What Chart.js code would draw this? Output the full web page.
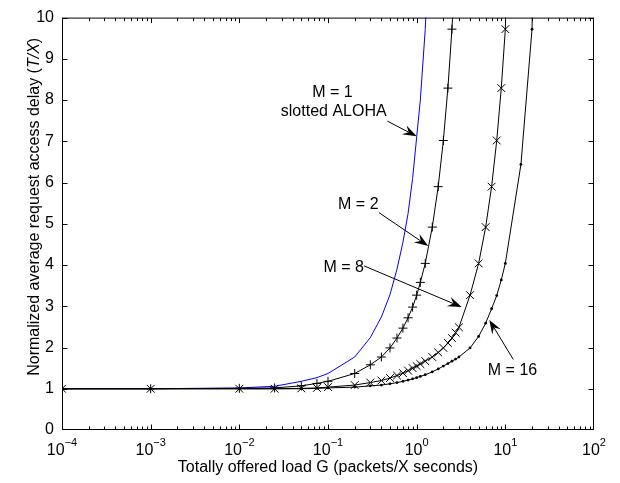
<!DOCTYPE html>
<html>
<head>
<meta charset="utf-8">
<title>Normalized access delay vs offered load</title>
<script src="https://cdn.jsdelivr.net/npm/chart.js@4.4.1/dist/chart.umd.min.js"></script>
<style>
  html, body { margin: 0; padding: 0; background: #fff; }
  #plot { display: block; }
</style>
</head>
<body>
<canvas id="plot" width="620" height="483"></canvas>
<script>
// offered load G (packets / X seconds), one grid shared by all curves
var loadG = [0.0001, 0.001, 0.01, 0.025, 0.05, 0.075, 0.1, 0.2, 0.3, 0.4, 0.5, 0.6, 0.7, 0.8, 0.9, 1.0, 1.1, 1.25,
             1.5, 1.75, 2.0, 2.25, 2.5, 2.75, 3.0, 4, 5, 6, 7, 8, 9, 10, 15, 20, 25];

// normalized average request access delay T/X
var delayM1 = [1.0, 1.0, 1.02, 1.06, 1.18, 1.27, 1.37, 1.77, 2.24, 2.74, 3.28, 3.9, 4.55, 5.25, 6.1, 7.1, 8.0, 9.72,
               13.5, null, null, null, null, null, null, null, null, null, null, null, null, null, null, null, null];
var delayM2 = [1.0, 1.0, 1.01, 1.02, 1.07, 1.13, 1.18, 1.37, 1.58, 1.77, 1.99, 2.23, 2.47, 2.72, 2.98, 3.27, 3.58, 4.04,
               4.92, 5.9, 7.02, 8.29, 9.72, 11.5, null, null, null, null, null, null, null, null, null, null, null];
var delayM8 = [1.0, 1.0, 1.0, 1.0, 1.01, 1.02, 1.04, 1.09, 1.15, 1.2, 1.26, 1.32, 1.38, 1.44, 1.5, 1.55, 1.6, 1.67,
               1.77, 1.88, 1.99, 2.11, 2.23, 2.36, 2.49, 3.27, 4.04, 4.92, 5.9, 7.02, 8.29, 9.72, 25, null, null];
var delayM16 = [1.0, 1.0, 1.0, 1.0, 1.0, 1.01, 1.02, 1.04, 1.07, 1.09, 1.12, 1.15, 1.18, 1.21, 1.24, 1.27, 1.3, 1.34,
                1.41, 1.48, 1.55, 1.61, 1.67, 1.72, 1.77, 1.99, 2.27, 2.59, 2.94, 3.26, 3.64, 4.04, 6.44, 9.72, 20];

var xTickExponents = [-4, -3, -2, -1, 0, 1, 2];
var yTickValues = [0, 1, 2, 3, 4, 5, 6, 7, 8, 9, 10];

var xTitle = 'Totally offered load G (packets/X seconds)';
var yTitle = ['Normalized average request access delay (', 'T/X', ')'];

// labels and arrows, placed in data coordinates (G, T/X)
var noteTexts = [
    { text: 'M = 1', g: 0.1123, y: 8.07 },
    { text: 'slotted ALOHA', g: 0.116, y: 7.61 },
    { text: 'M = 2', g: 0.2198, y: 5.37 },
    { text: 'M = 8', g: 0.1503, y: 3.835 },
    { text: 'M = 16', g: 12.05, y: 1.337 }
];
var noteArrows = [
    { from: [0.467, 7.49], to: [1.0, 7.12] },
    { from: [0.376, 5.27], to: [1.35, 4.46] },
    { from: [0.255, 3.98], to: [3.22, 2.98] },
    { from: [12.3, 1.71], to: [6.59, 2.67] }
];

var FONT = '"Liberation Sans", Arial, Helvetica, sans-serif';

function toPoints(values) {
    var pts = [];
    for (var i = 0; i < loadG.length; i++) {
        if (values[i] !== null) pts.push({ x: loadG[i], y: values[i] });
    }
    return pts;
}

function drawArrow(ctx, x0, y0, x1, y1) {
    var dx = x1 - x0, dy = y1 - y0;
    var len = Math.sqrt(dx * dx + dy * dy);
    var ux = dx / len, uy = dy / len, nx = -uy, ny = ux;
    var headLen = 14, halfW = 5, notch = 9;
    ctx.beginPath();
    ctx.moveTo(x0, y0);
    ctx.lineTo(x1 - ux * notch, y1 - uy * notch);
    ctx.stroke();
    ctx.beginPath();
    ctx.moveTo(x1, y1);
    ctx.lineTo(x1 - ux * headLen + nx * halfW, y1 - uy * headLen + ny * halfW);
    ctx.lineTo(x1 - ux * notch, y1 - uy * notch);
    ctx.lineTo(x1 - ux * headLen - nx * halfW, y1 - uy * headLen - ny * halfW);
    ctx.closePath();
    ctx.fill();
}

// box, inward ticks, superscript decade labels, titles and notes
var matlabFrame = {
    id: 'matlabFrame',
    afterDraw: function (chart) {
        var ctx = chart.ctx;
        var area = chart.chartArea;
        var sx = chart.scales.x, sy = chart.scales.y;
        var left = area.left + 0.5, right = area.right - 0.5;
        var top = area.top + 0.5, bottom = area.bottom - 0.5;
        var clampX = function (p) { return Math.min(Math.max(p, left), right); };
        var clampY = function (p) { return Math.min(Math.max(p, top), bottom); };

        ctx.save();
        ctx.strokeStyle = '#000';
        ctx.fillStyle = '#000';
        ctx.lineWidth = 1;
        ctx.strokeRect(left, top, right - left, bottom - top);

        ctx.beginPath();
        for (var i = 0; i < xTickExponents.length; i++) {
            for (var k = 1; k <= 9; k++) {
                if (i === xTickExponents.length - 1 && k > 1) break;
                var px = clampX(Math.round(sx.getPixelForValue(k * Math.pow(10, xTickExponents[i]))) + 0.5);
                var len = k === 1 ? 5 : 3;
                ctx.moveTo(px, bottom); ctx.lineTo(px, bottom - len);
                ctx.moveTo(px, top); ctx.lineTo(px, top + len);
            }
        }
        yTickValues.forEach(function (v) {
            var py = clampY(Math.round(sy.getPixelForValue(v)) + 0.5);
            ctx.moveTo(left, py); ctx.lineTo(left + 5, py);
            ctx.moveTo(right, py); ctx.lineTo(right - 5, py);
        });
        ctx.stroke();

        ctx.textBaseline = 'alphabetic';
        ctx.textAlign = 'left';
        xTickExponents.forEach(function (e) {
            var px = sx.getPixelForValue(Math.pow(10, e));
            var sup = e < 0 ? '\u2212' + (-e) : String(e);
            ctx.font = '16px ' + FONT;
            var wb = ctx.measureText('10').width;
            ctx.font = '11px ' + FONT;
            var ws = ctx.measureText(sup).width;
            var x0 = px - (wb + ws) / 2;
            ctx.font = '16px ' + FONT;
            ctx.fillText('10', x0, area.bottom + 25);
            ctx.font = '11px ' + FONT;
            ctx.fillText(sup, x0 + wb, area.bottom + 16);
        });

        ctx.font = '16px ' + FONT;
        ctx.textAlign = 'center';
        ctx.fillText(xTitle, (area.left + area.right) / 2, area.bottom + 42);

        // y title, rotated, with italic T/X
        ctx.save();
        ctx.translate(39, (area.top + area.bottom) / 2 - 17);
        ctx.rotate(-Math.PI / 2);
        ctx.textAlign = 'left';
        var fonts = ['16px ' + FONT, 'italic 16px ' + FONT, '16px ' + FONT];
        var widths = yTitle.map(function (s, j) { ctx.font = fonts[j]; return ctx.measureText(s).width; });
        var total = widths.reduce(function (a, b) { return a + b; }, 0);
        var cx = -total / 2;
        yTitle.forEach(function (s, j) {
            ctx.font = fonts[j];
            ctx.fillText(s, cx, 0);
            cx += widths[j];
        });
        ctx.restore();

        ctx.font = '16px ' + FONT;
        ctx.textAlign = 'center';
        noteTexts.forEach(function (n) {
            ctx.fillText(n.text, sx.getPixelForValue(n.g), sy.getPixelForValue(n.y));
        });
        noteArrows.forEach(function (a) {
            drawArrow(ctx,
                sx.getPixelForValue(a.from[0]), sy.getPixelForValue(a.from[1]),
                sx.getPixelForValue(a.to[0]), sy.getPixelForValue(a.to[1]));
        });
        ctx.restore();
    }
};

new Chart(document.getElementById('plot'), {
    type: 'line',
    data: {
        datasets: [
            // blue curve sits underneath the black ones
            { label: 'M = 1', data: toPoints(delayM1), borderColor: '#0000ff', borderWidth: 1,
              pointRadius: 0, tension: 0, fill: false, order: 10 },
            { label: 'M = 2', data: toPoints(delayM2), borderColor: '#000', borderWidth: 1,
              pointStyle: 'cross', pointRadius: 4.5, pointBorderColor: '#000', pointBorderWidth: 1,
              tension: 0, fill: false, order: 1 },
            { label: 'M = 8', data: toPoints(delayM8), borderColor: '#000', borderWidth: 1,
              pointStyle: 'crossRot', pointRadius: 5.5, pointBorderColor: '#000', pointBorderWidth: 1,
              tension: 0, fill: false, order: 1 },
            { label: 'M = 16', data: toPoints(delayM16), borderColor: '#000', borderWidth: 1,
              pointStyle: 'circle', pointRadius: 1.4, pointBackgroundColor: '#000', pointBorderColor: '#000',
              pointBorderWidth: 0, tension: 0, fill: false, order: 1 }
        ]
    },
    options: {
        responsive: false,
        animation: false,
        devicePixelRatio: 1,
        events: [],
        layout: { padding: { top: 11, right: 26, left: 0, bottom: 0 } },
        plugins: { legend: { display: false }, tooltip: { enabled: false } },
        scales: {
            x: {
                type: 'logarithmic',
                min: 1e-4,
                max: 100,
                grid: { display: false, drawTicks: false },
                border: { display: false },
                ticks: { display: false },
                afterBuildTicks: function (scale) {
                    scale.ticks = xTickExponents.map(function (e) { return { value: Math.pow(10, e) }; });
                },
                afterFit: function (scale) { scale.height = 53; }
            },
            y: {
                min: 0,
                max: 10,
                grid: { display: false, drawTicks: false },
                border: { display: false },
                ticks: { color: '#000', padding: 8, font: { family: FONT, size: 16 } },
                afterBuildTicks: function (scale) {
                    scale.ticks = yTickValues.map(function (v) { return { value: v }; });
                },
                afterFit: function (scale) { scale.width = 62; }
            }
        }
    },
    plugins: [matlabFrame]
});
</script>
</body>
</html>
